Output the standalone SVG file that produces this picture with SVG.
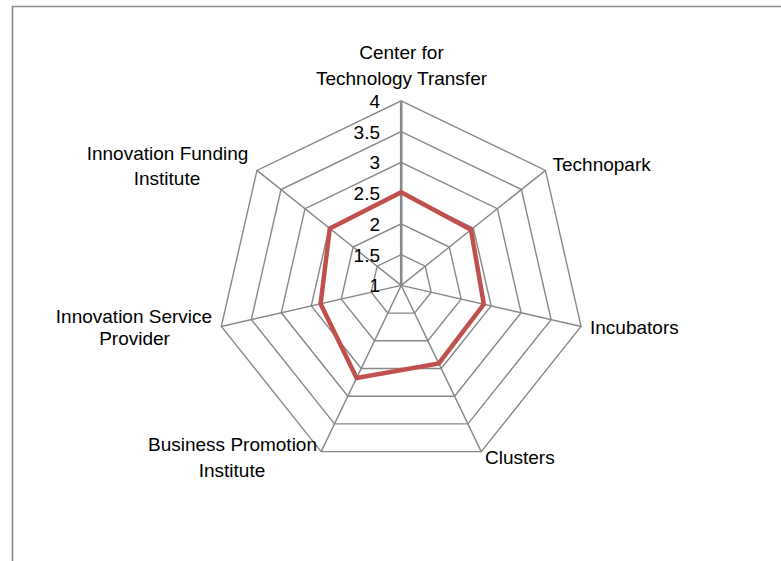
<svg xmlns="http://www.w3.org/2000/svg" width="781" height="561" viewBox="0 0 781 561">
<style>
text{font-family:"Liberation Sans",Arial,sans-serif;font-size:19px;fill:#000}
.ring{fill:none;stroke:#878787;stroke-width:1.4}
.spoke{stroke:#878787;stroke-width:1.4}
.axis{stroke:#878787;stroke-width:2.6}
.lbl{text-anchor:middle}
.num{text-anchor:end}
</style>
<rect width="781" height="561" fill="#fff"/>
<path d="M12.5,561 V6.5 H781" fill="none" stroke="#8a8a8a" stroke-width="1.6"/>
<g id="grid" transform="translate(401.2,285.4)">
<polygon class="ring" points="0,-184.5 144.25,-115.03 179.87,41.05 80.05,166.23 -80.05,166.23 -179.87,41.05 -144.25,-115.03"/>
<polygon class="ring" points="0,-153.75 120.21,-95.86 149.9,34.21 66.71,138.52 -66.71,138.52 -149.9,34.21 -120.21,-95.86"/>
<polygon class="ring" points="0,-123 96.17,-76.69 119.92,27.37 53.37,110.82 -53.37,110.82 -119.92,27.37 -96.17,-76.69"/>
<polygon class="ring" points="0,-92.25 72.12,-57.52 89.94,20.53 40.03,83.11 -40.03,83.11 -89.94,20.53 -72.12,-57.52"/>
<polygon class="ring" points="0,-61.5 48.08,-38.34 59.96,13.68 26.68,55.41 -26.68,55.41 -59.96,13.68 -48.08,-38.34"/>
<polygon class="ring" points="0,-30.75 24.04,-19.17 29.98,6.84 13.34,27.71 -13.34,27.71 -29.98,6.84 -24.04,-19.17"/>
<line class="spoke" x1="0" y1="0" x2="144.25" y2="-115.03"/>
<line class="spoke" x1="0" y1="0" x2="179.87" y2="41.05"/>
<line class="spoke" x1="0" y1="0" x2="80.05" y2="166.23"/>
<line class="spoke" x1="0" y1="0" x2="-80.05" y2="166.23"/>
<line class="spoke" x1="0" y1="0" x2="-179.87" y2="41.05"/>
<line class="spoke" x1="0" y1="0" x2="-144.25" y2="-115.03"/>
<line class="axis" x1="0" y1="0" x2="0" y2="-184.5"/>
</g>
<g id="series" transform="translate(401.2,285.4)">
<polygon points="0,-93.2 69.8,-55.7 82.6,18.85 37.6,78 -44.6,92.6 -80.6,18.4 -71.4,-56.9" fill="none" stroke="#C0504D" stroke-width="4.5" stroke-linejoin="miter"/>
</g>
<g id="axis-values">
<text class="num" x="380" y="107.8">4</text>
<text class="num" x="380" y="138.6">3.5</text>
<text class="num" x="380" y="169.3">3</text>
<text class="num" x="380" y="200">2.5</text>
<text class="num" x="380" y="230.8">2</text>
<text class="num" x="380" y="261.5">1.5</text>
<text class="num" x="380" y="292.3">1</text>
</g>
<g id="node-ctt"><text class="lbl" x="401.5" y="59">Center for</text><text class="lbl" x="401.5" y="84.5">Technology Transfer</text></g>
<g id="node-technopark"><text x="552.5" y="171">Technopark</text></g>
<g id="node-incubators"><text x="590" y="334">Incubators</text></g>
<g id="node-clusters"><text x="485" y="464">Clusters</text></g>
<g id="node-bpi"><text class="lbl" x="232.5" y="451">Business Promotion</text><text class="lbl" x="232" y="476.5">Institute</text></g>
<g id="node-isp"><text class="lbl" x="134" y="322.5">Innovation Service</text><text class="lbl" x="134.5" y="345">Provider</text></g>
<g id="node-ifi"><text class="lbl" x="167.5" y="160">Innovation Funding</text><text class="lbl" x="167" y="184.5">Institute</text></g>
</svg>
